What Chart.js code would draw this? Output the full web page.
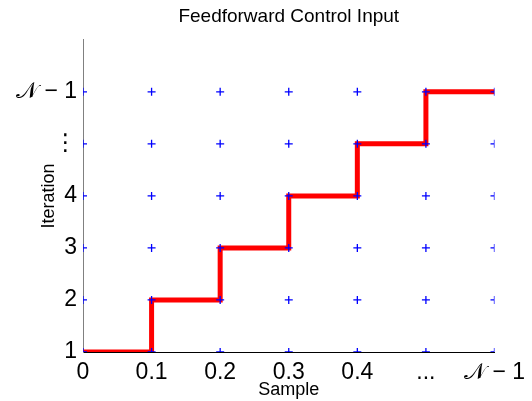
<!DOCTYPE html>
<html>
<head>
<meta charset="utf-8">
<script src="https://cdn.jsdelivr.net/npm/chart.js@4.4.1/dist/chart.umd.min.js"></script>
<style>
  html, body { margin: 0; padding: 0; background: #fff; }
  #wrap { width: 532px; height: 401px; }
</style>
</head>
<body>
<div id="wrap"><canvas id="c"></canvas></div>
<script>
// sample positions and their labels along x
const samples = [0, 1, 2, 3, 4, 5, 6];
const sampleLabels = ['0', '0.1', '0.2', '0.3', '0.4', '...', '\u{1D4A9} \u2212 1'];

// iteration rows and their labels along y
const iterations = [1, 2, 3, 4, 5, 6];
const iterationLabels = ['1', '2', '3', '4', '\u22EE', '\u{1D4A9} \u2212 1'];

// feedforward input level at each sample (held until the next one)
const inputLevel = [1, 2, 3, 4, 5, 6, 6];

// blue + at every (sample, iteration) pair
const gridPoints = [];
for (const it of iterations) {
  for (const s of samples) gridPoints.push({ x: s, y: it });
}

const tickFont = { family: 'Liberation Sans, Arial, DejaVu Sans, sans-serif', size: 23 };
const textFont = { family: 'Liberation Sans, Arial, sans-serif', size: 18 };

new Chart(document.getElementById('c'), {
  type: 'scatter',
  data: {
    datasets: [
      {
        label: 'input',
        type: 'line',
        data: samples.map((s, i) => ({ x: s, y: inputLevel[i] })),
        stepped: 'before',
        borderColor: '#ff0000',
        borderWidth: 5,
        pointRadius: 0,
        fill: false,
        order: 2
      },
      {
        label: 'grid',
        data: gridPoints,
        pointStyle: 'cross',
        pointRadius: 4,
        borderColor: '#0000ff',
        backgroundColor: '#0000ff',
        borderWidth: 1.3,
        order: 1
      }
    ]
  },
  options: {
    responsive: true,
    maintainAspectRatio: false,
    animation: false,
    layout: { padding: { left: 0, right: 37, top: 0, bottom: 0 } },
    plugins: {
      legend: { display: false },
      tooltip: { enabled: false },
      title: {
        display: true,
        fullSize: false,
        text: 'Feedforward Control Input',
        color: '#000',
        font: { family: textFont.family, size: 19, weight: 'normal' },
        padding: { top: 5, bottom: 12 }
      }
    },
    scales: {
      x: {
        type: 'linear',
        min: 0,
        max: 6,
        afterBuildTicks: (scale) => { scale.ticks = samples.map(v => ({ value: v })); },
        afterFit: (scale) => { scale.height = 49; },
        grid: { display: false, drawTicks: false },
        border: { color: '#000', width: 1 },
        ticks: {
          color: '#000',
          font: tickFont,
          padding: 7,
          maxRotation: 0,
          autoSkip: false,
          callback: (v) => sampleLabels[samples.indexOf(v)] ?? ''
        },
        title: {
          display: true,
          text: 'Sample',
          color: '#000',
          font: textFont,
          padding: { top: 0, bottom: 0 }
        }
      },
      y: {
        type: 'linear',
        min: 1,
        max: 7,
        afterBuildTicks: (scale) => { scale.ticks = iterations.map(v => ({ value: v })); },
        afterFit: (scale) => { scale.width = 83; },
        grid: { display: false, drawTicks: false },
        border: { color: '#808080', width: 1 },
        ticks: {
          color: '#000',
          font: tickFont,
          padding: 6,
          autoSkip: false,
          callback: (v) => iterationLabels[iterations.indexOf(v)] ?? ''
        },
        title: {
          display: true,
          text: 'Iteration',
          color: '#000',
          font: textFont,
          padding: { top: 38, bottom: 0 }
        }
      }
    }
  }
});
</script>
</body>
</html>
